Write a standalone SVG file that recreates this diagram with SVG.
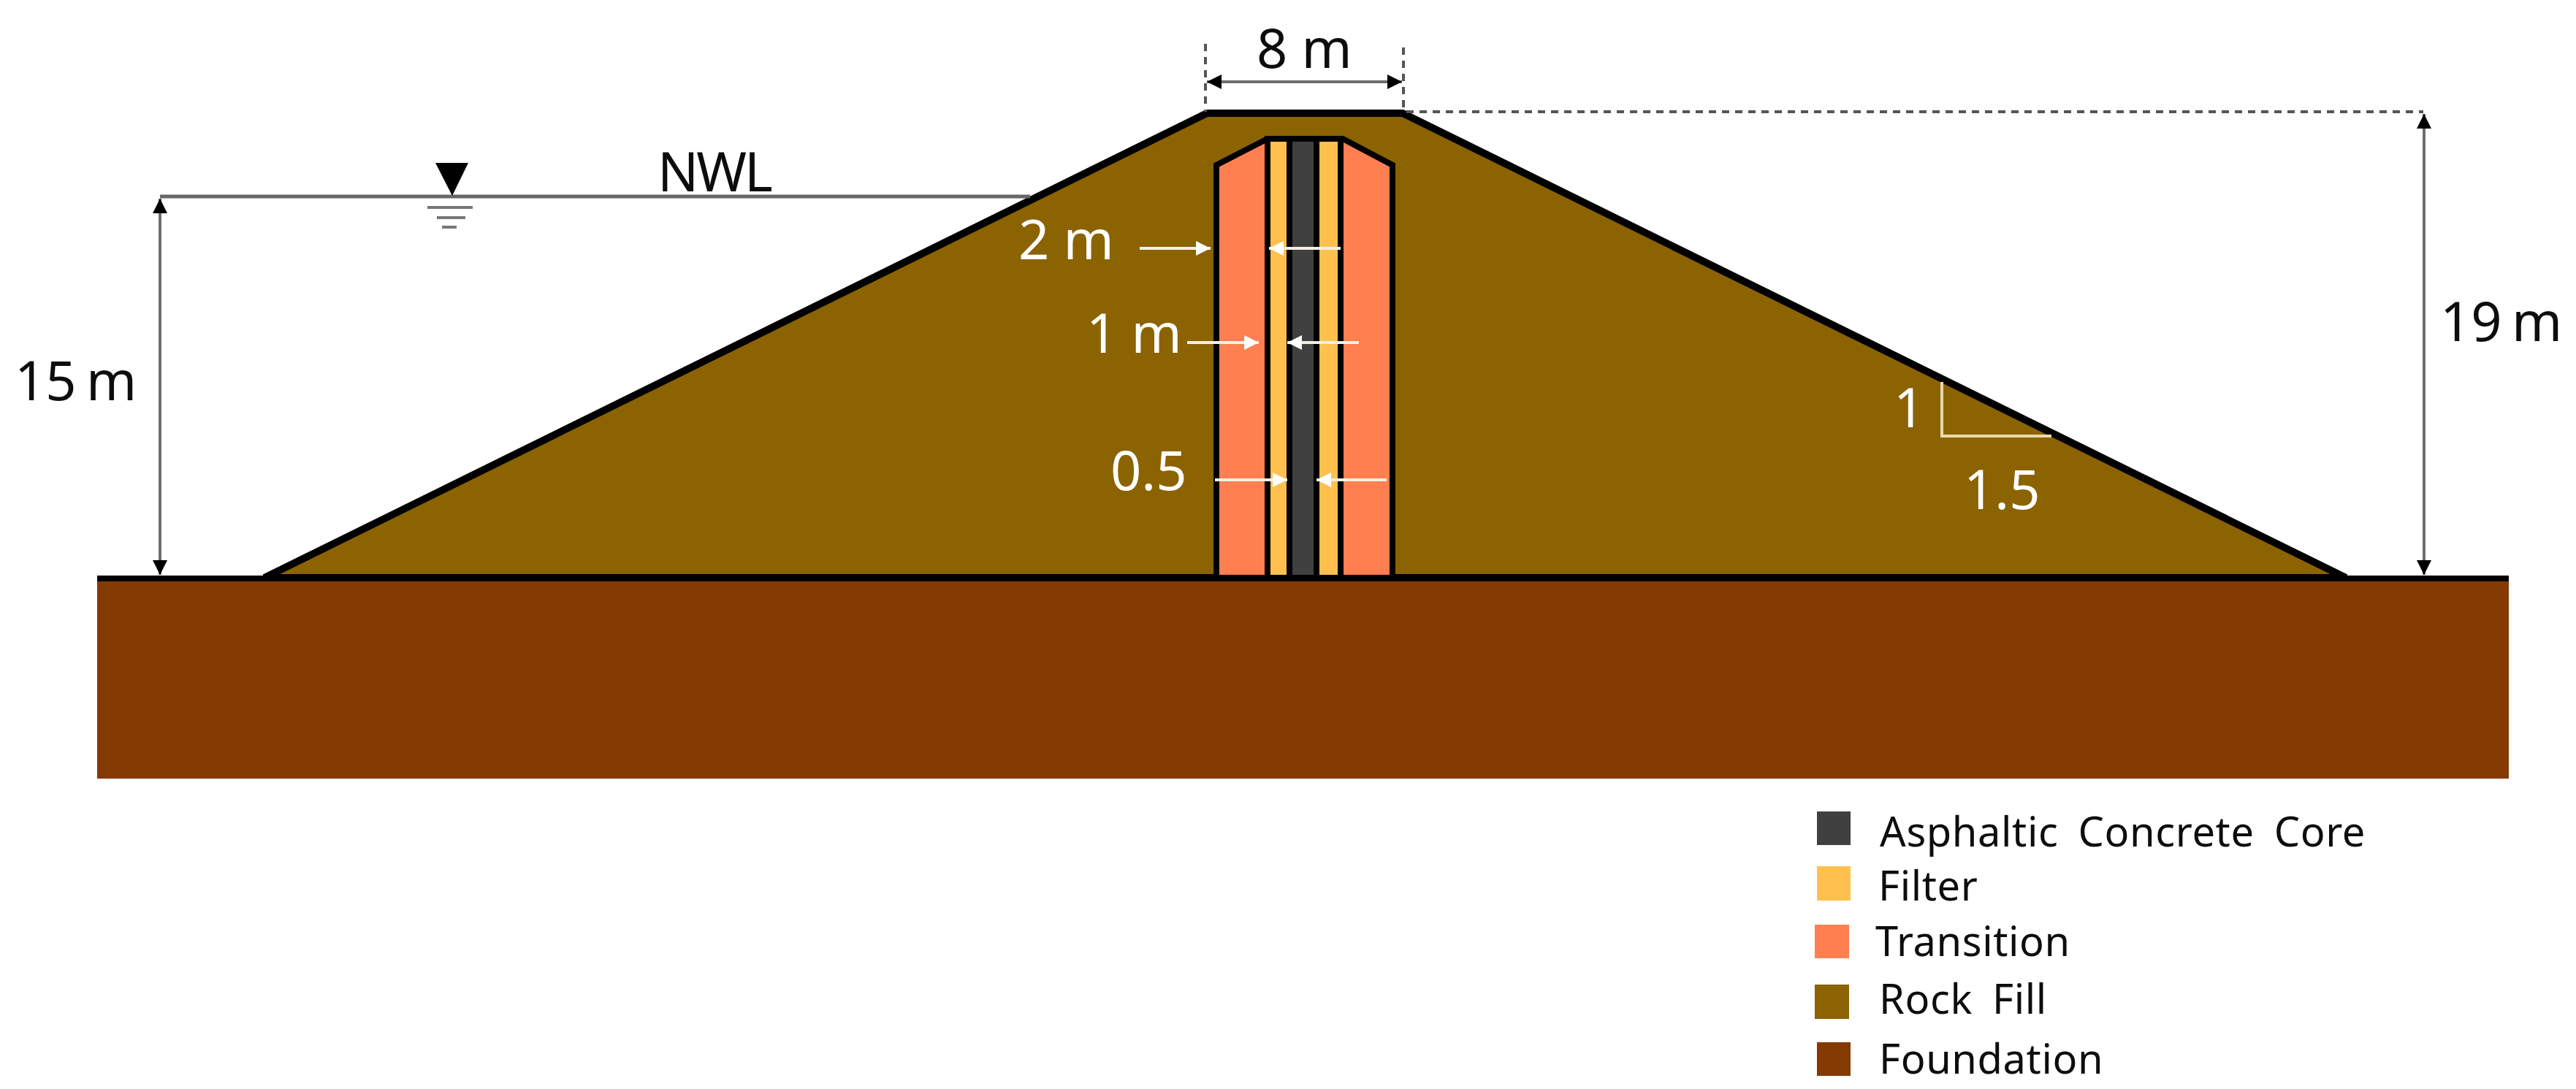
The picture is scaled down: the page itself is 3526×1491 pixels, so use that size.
<svg xmlns="http://www.w3.org/2000/svg" width="3526" height="1491" viewBox="0 0 3526 1491">
<style>
text{font-family:"Noto Sans","Open Sans",sans-serif;font-size:74px;fill:#0d0d0d}
.w{fill:#fff}
.n{word-spacing:-6px}
.lg{font-size:56px;letter-spacing:.6px;word-spacing:12px}
.dim{stroke:#6e6e6e;stroke-width:4;fill:none}
.dash{stroke:#555;stroke-width:4;fill:none;stroke-dasharray:10 8}
.wl{stroke:#f4efe4;stroke-width:4;fill:none}
.out{stroke:#000;stroke-width:8;stroke-linejoin:miter}
</style>
<defs>
<marker id="a" markerUnits="userSpaceOnUse" markerWidth="24" markerHeight="24" refX="20" refY="10" orient="auto-start-reverse"><path d="M0 0L20 10L0 20z" fill="#000"/></marker>
<marker id="w" markerUnits="userSpaceOnUse" markerWidth="24" markerHeight="24" refX="20" refY="10" orient="auto"><path d="M0 0L20 10L0 20z" fill="#fff"/></marker>
</defs>
<rect width="3526" height="1491" fill="#fff"/>
<g id="foundation"><rect x="133" y="792" width="3301" height="274" fill="#843a00"/></g>
<g id="rockfill"><path class="out" style="stroke-width:10" fill="#8b6300" d="M362 791L1652 155H1920L3211 791z"/><line x1="133" y1="792" x2="3434" y2="792" stroke="#000" stroke-width="8"/></g>
<g id="core">
<path class="out" fill="#ff7f50" d="M1665 791V226L1735 190H1838L1906 226V791z"/>
<rect class="out" x="1735" y="190" width="32" height="601" fill="#ffc04d"/>
<rect class="out" x="1802" y="190" width="33" height="601" fill="#ffc04d"/>
<rect class="out" x="1765" y="190" width="37" height="601" fill="#404040"/>
</g>
<g id="connectors">
<path class="dash" d="M1650 60V153M1921 65V153M1925 153H3317"/>
<line class="dim" x1="1652" y1="112" x2="1919" y2="112" marker-start="url(#a)" marker-end="url(#a)"/>
<line class="dim" x1="3318" y1="156" x2="3318" y2="787" marker-start="url(#a)" marker-end="url(#a)"/>
<line class="dim" x1="219" y1="272" x2="219" y2="787" marker-start="url(#a)" marker-end="url(#a)"/>
<path d="M219 269H1410" stroke="#666" stroke-width="5" fill="none"/>
<path d="M585 284H647M598 298H637M605 311H625" stroke="#777" stroke-width="4" fill="none"/>
<path d="M596 223H641L619 268z" fill="#000"/>
<g class="wl">
<path marker-end="url(#w)" d="M1560 340H1657"/><path marker-end="url(#w)" d="M1835 340H1737"/>
<path marker-end="url(#w)" d="M1625 469H1723"/><path marker-end="url(#w)" d="M1860 469H1762"/>
<path marker-end="url(#w)" d="M1663 657H1762"/><path marker-end="url(#w)" d="M1898 657H1802"/>
<path d="M2658 523V597H2808" stroke="#ead9ae"/>
</g>
</g>
<g id="labels">
<text x="1720" y="93">8 m</text>
<text x="900" y="262" style="letter-spacing:-3px">NWL</text>
<text class="n" x="20" y="548">15 m</text>
<text class="n" x="3340" y="467">19 m</text>
<text class="w" x="1394" y="355">2 m</text>
<text class="w" x="1487" y="483">1 m</text>
<text class="w" x="1520" y="671">0.5</text>
<text class="w" x="2592" y="585">1</text>
<text class="w" x="2688" y="697">1.5</text>
</g>
<g id="legend">
<rect x="2487" y="1111" width="46" height="46" fill="#404040"/><text class="lg" x="2573" y="1159">Asphaltic Concrete Core</text>
<rect x="2487" y="1186" width="46" height="47" fill="#ffc04d"/><text class="lg" x="2571" y="1233">Filter</text>
<rect x="2484" y="1266" width="47" height="46" fill="#ff7f50"/><text class="lg" x="2567" y="1309">Transition</text>
<rect x="2484" y="1348" width="47" height="47" fill="#8b6300"/><text class="lg" x="2572" y="1388">Rock Fill</text>
<rect x="2487" y="1427" width="46" height="46" fill="#843a00"/><text class="lg" x="2572" y="1470">Foundation</text>
</g>
</svg>
